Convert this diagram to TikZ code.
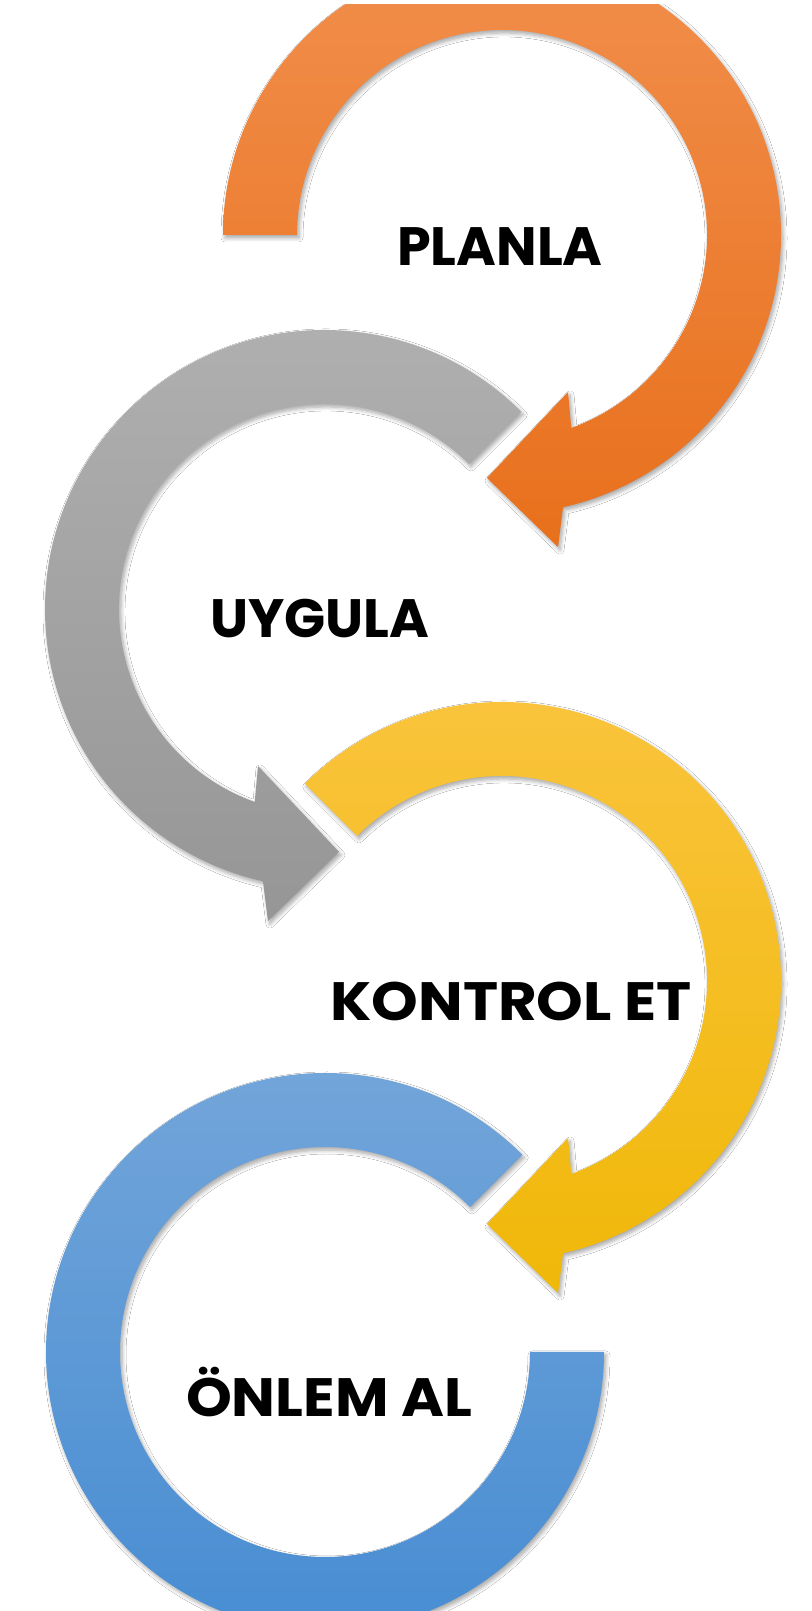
\documentclass[tikz,border=0pt]{standalone}
\usepackage{fontspec}
\usepackage{graphicx}
\setmainfont{Poppins}
\usetikzlibrary{shadows.blur}
\definecolor{orangetop}{RGB}{241,142,75}
\definecolor{orangebot}{RGB}{232,112,28}
\definecolor{graytop}{RGB}{176,176,176}
\definecolor{graybot}{RGB}{150,150,150}
\definecolor{yellowtop}{RGB}{250,196,62}
\definecolor{yellowbot}{RGB}{240,184,8}
\definecolor{bluetop}{RGB}{116,166,218}
\definecolor{bluebot}{RGB}{70,140,210}
\tikzset{
  ring/.style={blur shadow={shadow xshift=2pt, shadow yshift=-3pt, shadow blur radius=4pt, shadow blur steps=6, shadow opacity=35}},
  orangering/.style={ring, top color=orangetop, bottom color=orangebot},
  grayring/.style={ring, top color=graytop, bottom color=graybot},
  yellowring/.style={ring, top color=yellowtop, bottom color=yellowbot},
  bluering/.style={ring, top color=bluetop, bottom color=bluebot},
  label/.style={font=\bfseries\fontsize{54}{60}\selectfont, text=black, inner sep=0pt, anchor=base}
}
\begin{document}
\begin{tikzpicture}[x=1pt, y=1pt]
\useasboundingbox (0,0) rectangle (811,1611);
\fill[white] (0,0) rectangle (811,1611);
\begin{scope}
\clip (0,0) rectangle (811,1606);
% orange: PLANLA
\begin{scope}[shift={(502,1376)}]
\path[orangering] (-279,0) arc[start angle=180, end angle=-77.36, radius=279]
  -- (56,-312) -- (-15,-243) -- (66,-157)
  -- (-70.25:205) arc[start angle=-70.25, end angle=180, radius=205] -- cycle;
\end{scope}
% gray: UYGULA
\begin{scope}[shift={(324,1002)}]
\path[grayring] (45:279) arc[start angle=45, end angle=257.36, radius=279]
  -- (-56,-312) -- (15,-243) -- (-66,-157)
  -- (250.25:205) arc[start angle=250.25, end angle=45, radius=205] -- cycle;
\end{scope}
% yellow: KONTROL ET
\begin{scope}[shift={(502,630)}]
\path[yellowring] (135:279) arc[start angle=135, end angle=-77.36, radius=279]
  -- (56,-312) -- (-15,-243) -- (66,-157)
  -- (-70.25:205) arc[start angle=-70.25, end angle=135, radius=205] -- cycle;
\end{scope}
% blue: ÖNLEM AL
\begin{scope}[shift={(325,259)}]
\path[bluering] (45:279) arc[start angle=45, end angle=360, radius=279]
  -- (205,0) arc[start angle=360, end angle=45, radius=205] -- cycle;
\end{scope}
\end{scope}
\node[label] (planla) at (500,1345) {PLANLA};
\node[label] (uygula) at (320,973) {UYGULA};
\node[label] (kontrol) at (511,590) {\scalebox{1.10}[1]{KONTROL ET}};
\node[label] (onlem) at (329,194) {\scalebox{1.08}[1]{ÖNLEM AL}};
\end{tikzpicture}
\end{document}
